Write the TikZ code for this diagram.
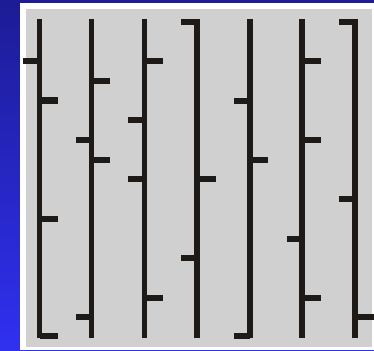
\documentclass[tikz,border=0pt]{standalone}
\usepackage{tikz}
\usetikzlibrary{positioning}

\definecolor{bgtop}{RGB}{28,28,150}
\definecolor{bgbot}{RGB}{48,48,240}
\definecolor{panel}{RGB}{208,208,208}
\definecolor{barcol}{RGB}{30,26,23}

\begin{document}
\begin{tikzpicture}[
  x=1pt, y=-1pt,
  bar/.style={draw=barcol, line width=5.5pt},
  tick/.style={draw=barcol, line width=6pt}
]
  \useasboundingbox (0,0) rectangle (374,350);
  \shade[top color=bgtop, bottom color=bgbot] (0,0) rectangle (374,350);
  \fill[white] (20,3) rectangle (374,350);
  \fill[panel] (25.5,9) rectangle (372,347);

  \draw[bar] (39.5,19) -- (39.5,338);
  \draw[tick] (23,61) -- (39.5,61);
  \draw[tick] (39.5,100.5) -- (58,100.5);
  \draw[tick] (39.5,219) -- (58,219);
  \draw[tick] (39.5,335.5) -- (58,335.5);

  \draw[bar] (91.5,19) -- (91.5,338);
  \draw[tick] (91.5,81) -- (110,81);
  \draw[tick] (76,140) -- (91.5,140);
  \draw[tick] (91.5,160) -- (110,160);
  \draw[tick] (76,317) -- (91.5,317);

  \draw[bar] (144.5,19) -- (144.5,338);
  \draw[tick] (144.5,61) -- (163,61);
  \draw[tick] (128,120) -- (144.5,120);
  \draw[tick] (128,179) -- (144.5,179);
  \draw[tick] (144.5,297.5) -- (163,297.5);

  \draw[bar] (197,19) -- (197,338);
  \draw[tick] (181,22) -- (197,22);
  \draw[tick] (197,179) -- (216,179);
  \draw[tick] (181,258) -- (197,258);

  \draw[bar] (250,19) -- (250,338);
  \draw[tick] (234,101) -- (250,101);
  \draw[tick] (250,160) -- (268,160);
  \draw[tick] (234,336) -- (250,336);

  \draw[bar] (302,19) -- (302,338);
  \draw[tick] (302,61) -- (321,61);
  \draw[tick] (302,140) -- (321,140);
  \draw[tick] (287,238.5) -- (302,238.5);
  \draw[tick] (302,297.5) -- (321,297.5);

  \draw[bar] (355,19) -- (355,338);
  \draw[tick] (339,22) -- (355,22);
  \draw[tick] (339,199) -- (355,199);
  \draw[tick] (355,317) -- (374,317);
\end{tikzpicture}
\end{document}
